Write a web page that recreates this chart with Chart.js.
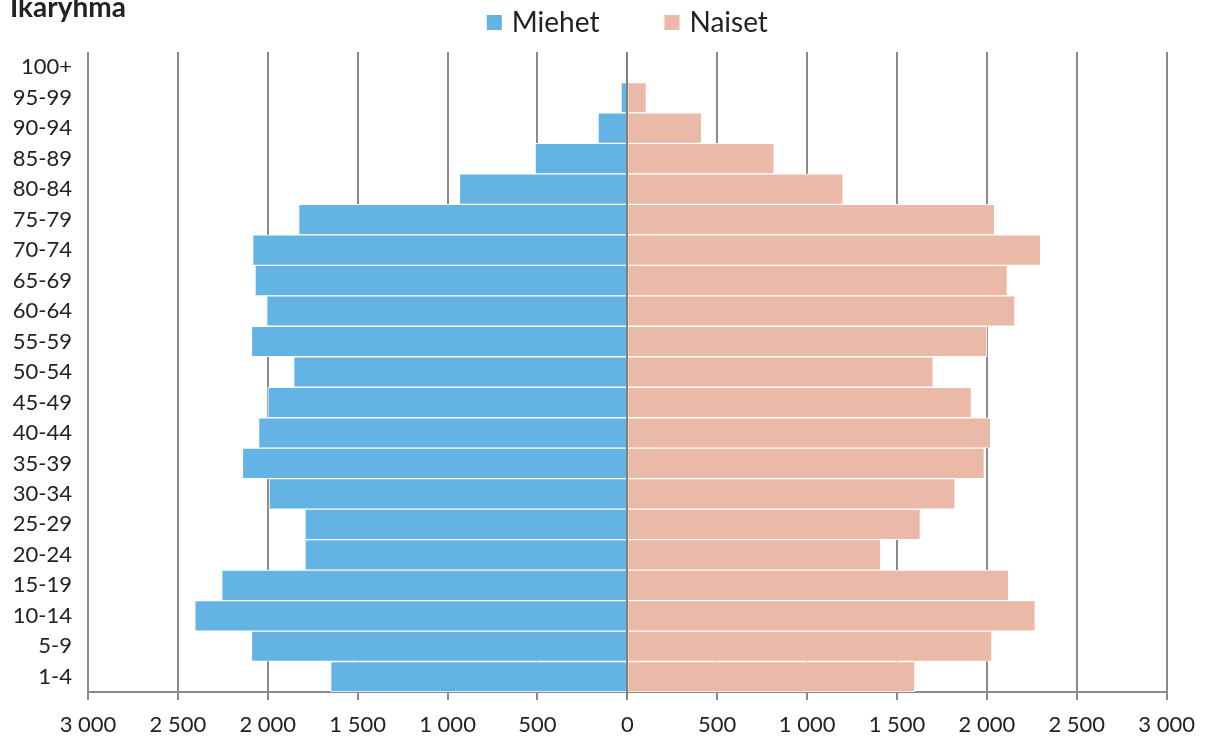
<!DOCTYPE html>
<html lang="fi">
<head>
<meta charset="utf-8">
<title>Väestö ikäryhmittäin</title>
<script src="https://cdn.jsdelivr.net/npm/chart.js@4/dist/chart.umd.min.js"></script>
<style>
  html, body { margin: 0; padding: 0; background: #fff; }
  #wrap { width: 1207px; height: 737px; position: relative; }
</style>
</head>
<body>
<div id="wrap"><canvas id="pyramid"></canvas></div>
<script>
// Age groups, oldest at the top
const ageGroups = ['100+', '95-99', '90-94', '85-89', '80-84', '75-79', '70-74', '65-69',
  '60-64', '55-59', '50-54', '45-49', '40-44', '35-39', '30-34', '25-29', '20-24',
  '15-19', '10-14', '5-9', '1-4'];

// Persons per age group
const men = [0, 35, 163, 513, 934, 1828, 2084, 2071, 2006, 2091, 1856, 2000, 2051,
  2141, 1993, 1793, 1793, 2256, 2406, 2091, 1650];
const women = [0, 106, 413, 817, 1200, 2043, 2299, 2114, 2156, 2001, 1701, 1914, 2021,
  1986, 1823, 1630, 1410, 2121, 2269, 2028, 1600];

const seriesNames = ['Miehet', 'Naiset'];
const seriesColors = ['#63B4E4', '#EBB9A7'];
const axisTitle = 'Ikäryhmä';

const xMin = -3000, xMax = 3000, xStep = 500;

const FONT = 'Lato, "Open Sans", "DejaVu Sans", sans-serif';
const TEXT = '#222222';
const GRID = '#8a8a8a';

function fmtThousands(v) {
  return String(Math.abs(v)).replace(/\B(?=(\d{3})+(?!\d))/g, '\u00a0');
}

// Zero line on top of the bars, axis title and legend
const overlay = {
  id: 'overlay',
  afterDatasetsDraw(chart) {
    const { ctx, chartArea, scales } = chart;
    const x0 = Math.round(scales.x.getPixelForValue(0));
    ctx.save();
    ctx.strokeStyle = '#7f7f7f';
    ctx.lineWidth = 2;
    ctx.beginPath();
    ctx.moveTo(x0, chartArea.top);
    ctx.lineTo(x0, chartArea.bottom + 8);
    ctx.stroke();
    ctx.restore();
  },
  afterDraw(chart) {
    const { ctx, chartArea } = chart;
    ctx.save();
    // axis title
    ctx.fillStyle = TEXT;
    ctx.font = 'bold 28px ' + FONT;
    ctx.textAlign = 'left';
    ctx.textBaseline = 'alphabetic';
    ctx.fillText(axisTitle, 10, 17);

    // legend
    ctx.font = '28px ' + FONT;
    ctx.textBaseline = 'middle';
    const box = 15, gapText = 10, gapItem = 65;
    const items = chart.data.datasets.map(d => ({
      label: d.label, color: d.backgroundColor, w: ctx.measureText(d.label).width
    }));
    const total = items.reduce((s, it) => s + box + gapText + it.w, 0) + gapItem * (items.length - 1);
    let x = (chartArea.left + chartArea.right) / 2 - total / 2;
    const cy = 22.5;
    items.forEach(it => {
      ctx.fillStyle = it.color;
      ctx.fillRect(x, cy - box / 2, box, box);
      x += box + gapText;
      ctx.fillStyle = TEXT;
      ctx.fillText(it.label, x, cy);
      x += it.w + gapItem;
    });
    ctx.restore();
  }
};

new Chart(document.getElementById('pyramid'), {
  type: 'bar',
  data: {
    labels: ageGroups,
    datasets: [
      { label: seriesNames[0], data: men.map(v => -v), backgroundColor: seriesColors[0] },
      { label: seriesNames[1], data: women, backgroundColor: seriesColors[1] }
    ]
  },
  options: {
    indexAxis: 'y',
    responsive: true,
    maintainAspectRatio: false,
    animation: false,
    layout: { padding: { top: 52, left: 0, right: 39, bottom: 0 } },
    datasets: {
      bar: {
        barPercentage: 1,
        categoryPercentage: 1,
        borderColor: '#ffffff',
        borderWidth: 1
      }
    },
    plugins: {
      legend: { display: false },
      tooltip: { enabled: false },
      title: { display: false }
    },
    scales: {
      x: {
        stacked: true,
        min: xMin,
        max: xMax,
        afterFit(scale) { scale.height = 45; },
        ticks: {
          stepSize: xStep,
          color: TEXT,
          font: { family: FONT, size: 22 },
          padding: 12,
          maxRotation: 0,
          autoSkip: false,
          callback: v => fmtThousands(v)
        },
        grid: {
          color: GRID,
          lineWidth: 2,
          tickLength: 8,
          tickColor: GRID,
          drawTicks: true
        },
        border: { display: true, color: GRID, width: 2 }
      },
      y: {
        stacked: true,
        afterFit(scale) { scale.width = 88; },
        ticks: {
          color: TEXT,
          font: { family: FONT, size: 22 },
          padding: 16,
          autoSkip: false
        },
        grid: { display: false, drawTicks: false },
        border: { display: false }
      }
    }
  },
  plugins: [overlay]
});
</script>
</body>
</html>
